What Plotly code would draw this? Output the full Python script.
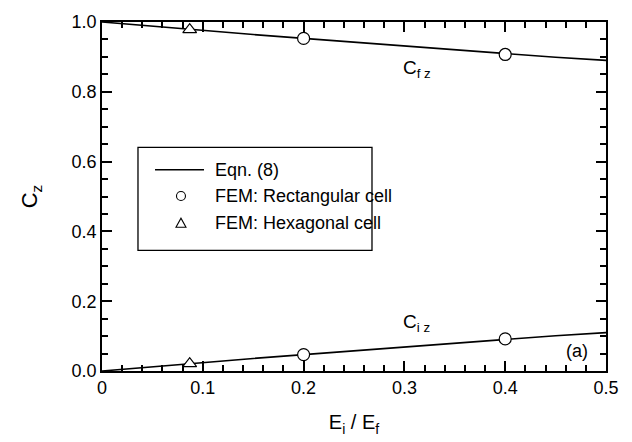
import plotly.graph_objects as go

# Eqn. (8) curves
ratio = [0.0, 0.05, 0.1, 0.15, 0.2, 0.25, 0.3, 0.35, 0.4, 0.45, 0.5]
c_iz_eqn = [0.0, 0.0125, 0.0245, 0.036, 0.047, 0.058, 0.069, 0.0805, 0.092, 0.101, 0.110]
c_fz_eqn = [1.0, 0.9875, 0.9755, 0.964, 0.953, 0.942, 0.931, 0.9195, 0.908, 0.899, 0.890]

# FEM results
rect_x = [0.2, 0.4]
rect_fz = [0.953, 0.907]
rect_iz = [0.047, 0.092]
hex_x = [0.087]
hex_fz = [0.978]
hex_iz = [0.021]

legend_labels = ["Eqn. (8)", "FEM: Rectangular cell", "FEM: Hexagonal cell"]
x_tick_vals = [0.0, 0.1, 0.2, 0.3, 0.4, 0.5]
x_tick_text = ["0", "0.1", "0.2", "0.3", "0.4", "0.5"]

FONT = "Liberation Sans, Arial, sans-serif"
BLACK = "black"

fig = go.Figure()
fig.add_trace(go.Scatter(x=ratio, y=c_fz_eqn, mode="lines",
                         line=dict(color=BLACK, width=1.6), showlegend=False))
fig.add_trace(go.Scatter(x=ratio, y=c_iz_eqn, mode="lines",
                         line=dict(color=BLACK, width=1.6), showlegend=False))
fig.add_trace(go.Scatter(x=rect_x + rect_x, y=rect_fz + rect_iz, mode="markers",
                         marker=dict(symbol="circle", size=12, color="white",
                                     line=dict(color=BLACK, width=1.2)),
                         showlegend=False))
fig.add_trace(go.Scatter(x=hex_x + hex_x, y=hex_fz + hex_iz, mode="markers",
                         marker=dict(symbol="triangle-up", size=12, color="white",
                                     line=dict(color=BLACK, width=1.2)),
                         showlegend=False))

frame = dict(showgrid=False, zeroline=False, showline=True, linecolor=BLACK,
             linewidth=1.5, mirror="ticks", ticks="inside", ticklen=10, tickwidth=2,
             tickcolor=BLACK, tickfont=dict(family=FONT, size=18, color=BLACK))

fig.update_layout(
    xaxis=dict(
        range=[0, 0.5], tickvals=x_tick_vals, ticktext=x_tick_text,
        minor=dict(tickmode="linear", tick0=0, dtick=0.02, ticks="inside", ticklen=6,
                   tickwidth=1.6, tickcolor=BLACK, showgrid=False),
        title=dict(text="E<sub>i</sub> / E<sub>f</sub>",
                   font=dict(family=FONT, size=20, color=BLACK), standoff=18),
        **frame,
    ),
    yaxis=dict(
        range=[0, 1.0], tickmode="linear", tick0=0, dtick=0.2, tickformat=".1f",
        minor=dict(tickmode="linear", tick0=0, dtick=0.05, ticks="inside", ticklen=6,
                   tickwidth=1.6, tickcolor=BLACK, showgrid=False),
        title=dict(text="C<sub>z</sub>", font=dict(family=FONT, size=22, color=BLACK),
                   standoff=28),
        **frame,
    ),
)

# curve labels and panel tag
fig.add_annotation(x=0.312, y=0.865, xref="x", yref="y", showarrow=False,
                   text="C<sub>f z</sub>", font=dict(family=FONT, size=19, color=BLACK))
fig.add_annotation(x=0.312, y=0.137, xref="x", yref="y", showarrow=False,
                   text="C<sub>i z</sub>", font=dict(family=FONT, size=19, color=BLACK))
fig.add_annotation(x=0.471, y=0.058, xref="x", yref="y", showarrow=False,
                   text="(a)", font=dict(family=FONT, size=18, color=BLACK))

# legend box drawn in paper coordinates
box = dict(x0=0.0714, x1=0.5357, y0=0.3454, y1=0.6407)
row_y = [0.5766, 0.5014, 0.4234]
sym_x = 0.1567
text_x = 0.2202

fig.add_shape(type="rect", xref="paper", yref="paper", **box,
              line=dict(color=BLACK, width=1.3), fillcolor="white", layer="above")
fig.add_shape(type="line", xref="paper", yref="paper", x0=0.1052, x1=0.2024,
              y0=row_y[0], y1=row_y[0], line=dict(color=BLACK, width=1.6))
fig.add_shape(type="circle", xref="paper", yref="paper",
              xsizemode="pixel", ysizemode="pixel", xanchor=sym_x, yanchor=row_y[1],
              x0=-4.5, x1=4.5, y0=-4.5, y1=4.5, line=dict(color=BLACK, width=1.1))
fig.add_shape(type="path", xref="paper", yref="paper",
              xsizemode="pixel", ysizemode="pixel", xanchor=sym_x, yanchor=row_y[2],
              path="M -5 -4 L 5 -4 L 0 5 Z", line=dict(color=BLACK, width=1.1))
for label, yy in zip(legend_labels, row_y):
    fig.add_annotation(x=text_x, y=yy, xref="paper", yref="paper", showarrow=False,
                       xanchor="left", yanchor="middle", text=label,
                       font=dict(family=FONT, size=18, color=BLACK))

fig.update_layout(
    width=632, height=442,
    margin=dict(l=102, r=26, t=14, b=69),
    paper_bgcolor="white", plot_bgcolor="white",
    font=dict(family=FONT, color=BLACK),
    showlegend=False,
)

fig.write_html("out.html")
